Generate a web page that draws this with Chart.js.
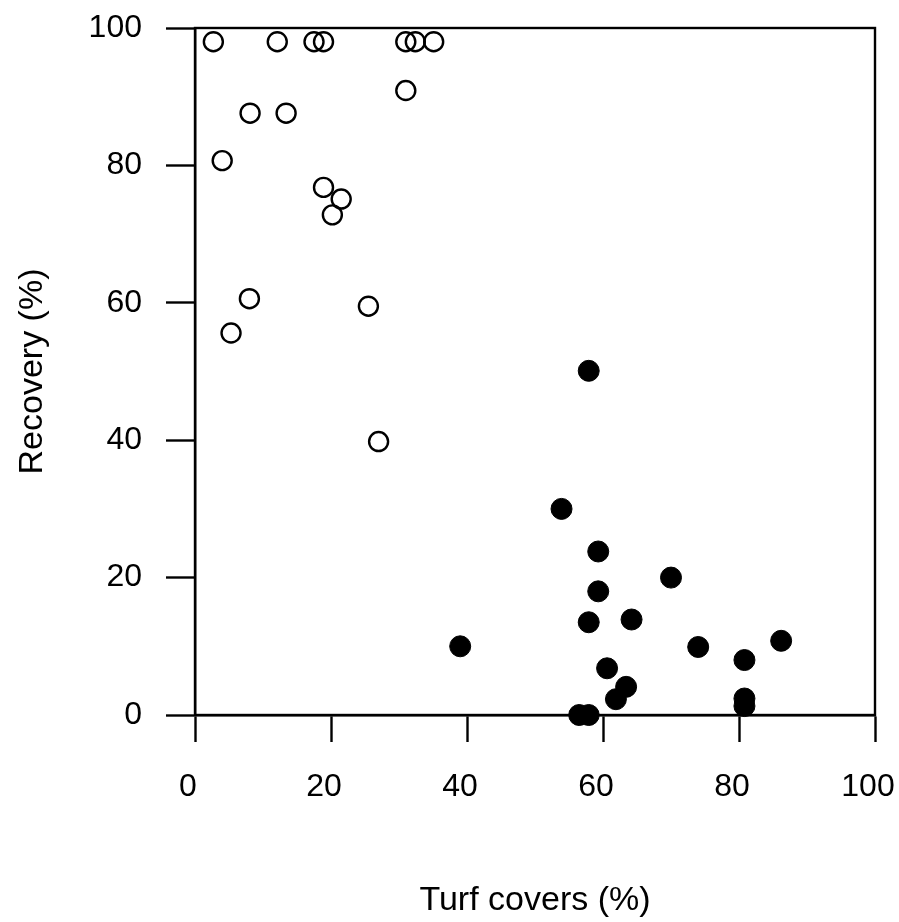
<!DOCTYPE html>
<html>
<head>
<meta charset="utf-8">
<script src="https://cdn.jsdelivr.net/npm/chart.js@4/dist/chart.umd.min.js"></script>
<style>
  html, body { margin: 0; padding: 0; background: #fff; }
  canvas { display: block; }
</style>
</head>
<body>
<canvas id="chartTurf" width="899" height="922"></canvas>
<script>
// Open circles (low turf cover)
const openX = [2.7, 12.1, 17.5, 18.9, 31.0, 32.4, 35.1, 31.0, 8.1, 13.4, 4.0, 18.9, 21.5, 20.2, 8.0, 5.3, 25.5, 27.0];
const openY = [98, 98, 98, 98, 98, 98, 98, 90.9, 87.6, 87.6, 80.7, 76.8, 75.1, 72.8, 60.6, 55.6, 59.5, 39.8];

// Filled circles (high turf cover)
const filledX = [57.9, 53.9, 59.3, 70.0, 59.3, 57.9, 64.2, 39.0, 74.0, 86.2, 80.8, 60.6, 63.4, 61.9, 80.8, 80.8, 56.5, 57.9];
const filledY = [50.1, 30.0, 23.8, 20.0, 18.0, 13.5, 13.9, 10.0, 9.9, 10.8, 8.0, 6.8, 4.1, 2.3, 2.4, 1.3, 0, 0];

const xTicks = [0, 20, 40, 60, 80, 100];
const yTicks = [0, 20, 40, 60, 80, 100];
const xTitle = "Turf covers (%)";
const yTitle = "Recovery (%)";

const toPoints = (xs, ys) => xs.map((x, i) => ({ x: x, y: ys[i] }));

// box around the plot area
const frame = {
    id: 'frame',
    afterDatasetsDraw(chart) {
        const a = chart.chartArea;
        const ctx = chart.ctx;
        ctx.save();
        ctx.strokeStyle = '#000';
        ctx.lineWidth = 2.4;
        ctx.strokeRect(a.left, a.top, a.right - a.left, a.bottom - a.top);
        ctx.restore();
    }
};

const fontFam = "'Liberation Sans', Arial, sans-serif";

new Chart(document.getElementById("chartTurf"), {
    type: 'scatter',
    data: {
        datasets: [{
            data: toPoints(openX, openY),
            pointRadius: 9.5,
            pointHoverRadius: 9.5,
            borderWidth: 2.4,
            borderColor: '#000',
            backgroundColor: 'rgba(0,0,0,0)',
            clip: false
        }, {
            data: toPoints(filledX, filledY),
            pointRadius: 10.5,
            pointHoverRadius: 10.5,
            borderWidth: 1,
            borderColor: '#000',
            backgroundColor: '#000',
            clip: false
        }]
    },
    options: {
        responsive: false,
        animation: false,
        devicePixelRatio: 1,
        layout: { padding: { top: 28, right: 24, left: 0, bottom: 0 } },
        plugins: {
            legend: { display: false },
            tooltip: { enabled: false }
        },
        scales: {
            x: {
                type: 'linear',
                min: 0,
                max: 100,
                afterBuildTicks: s => { s.ticks = xTicks.map(v => ({ value: v })); },
                afterFit: s => { s.height = 207; s.paddingLeft = 0; s.paddingRight = 0; },
                grid: { drawOnChartArea: false, drawTicks: true, tickLength: 27, tickColor: '#000', tickWidth: 2.4 },
                border: { display: true, color: '#000', width: 2.4 },
                ticks: {
                    color: '#000',
                    padding: 26,
                    labelOffset: -7,
                    maxRotation: 0,
                    font: { family: fontFam, size: 32 }
                },
                title: {
                    display: true,
                    text: xTitle,
                    color: '#000',
                    font: { family: fontFam, size: 34 },
                    padding: { top: 0, bottom: 1 }
                }
            },
            y: {
                type: 'linear',
                min: 0,
                max: 100,
                afterBuildTicks: s => { s.ticks = yTicks.map(v => ({ value: v })); },
                afterFit: s => { s.width = 195; s.paddingTop = 0; s.paddingBottom = 0; },
                grid: { drawOnChartArea: false, drawTicks: true, tickLength: 29, tickColor: '#000', tickWidth: 2.4 },
                border: { display: true, color: '#000', width: 2.4 },
                ticks: {
                    color: '#000',
                    padding: 24,
                    font: { family: fontFam, size: 32 }
                },
                title: {
                    display: true,
                    text: yTitle,
                    color: '#000',
                    font: { family: fontFam, size: 34 },
                    padding: { top: 12, bottom: 0 }
                }
            }
        }
    },
    plugins: [frame]
});
</script>
</body>
</html>
